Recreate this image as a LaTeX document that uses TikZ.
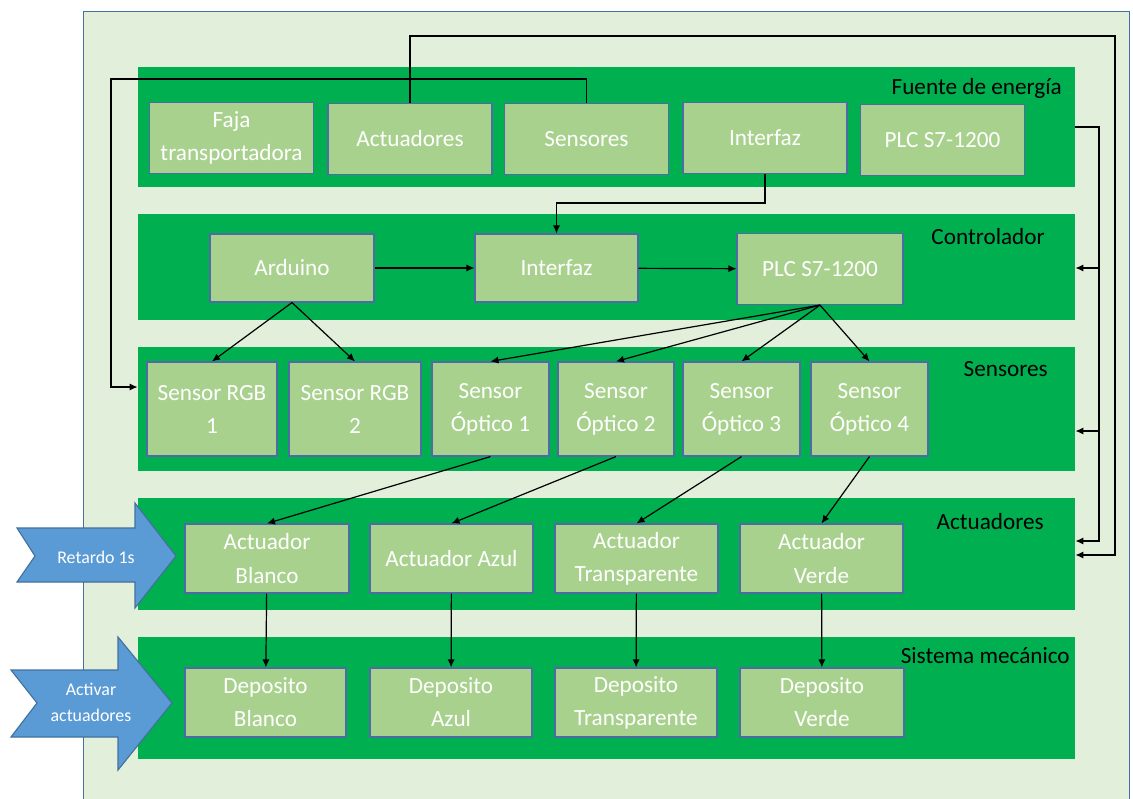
\documentclass[tikz,border=0pt]{standalone}
\usepackage{fontspec}
\setmainfont{Carlito}
\usetikzlibrary{arrows.meta, positioning}
\usepackage{xcolor}
\definecolor{fondo}{HTML}{E2EFDA}
\definecolor{banda}{HTML}{00B050}
\definecolor{caja}{HTML}{A9D18E}
\definecolor{borde}{HTML}{4E6BA6}
\definecolor{azulflecha}{HTML}{5B9BD5}
\definecolor{bordeflecha}{HTML}{41719C}

\begin{document}
\begin{tikzpicture}[x=0.025cm,y=-0.025cm]
\tikzstyle{bloque} = [
	shape=rectangle,
	draw=borde, %blue border of the boxes
	fill=caja, %light green inside
	line width=0.8pt,
	text=white,
	align=center,
	font=\fontsize{16.5}{23.5}\selectfont,
	minimum width=4.1cm,
	minimum height=1.775cm,
	inner sep=0pt
];
\tikzstyle{franja} = [
	shape=rectangle,
	fill=banda,
	minimum width=23.425cm,
	inner sep=0pt
];
\tikzstyle{titulo} = [
	anchor=east,
	text=black,
	font=\fontsize{16.5}{23.5}\selectfont,
	inner sep=0pt
];
\tikzstyle{entrada} = [
	fill=azulflecha,
	draw=bordeflecha,
	line width=0.8pt
];
\tikzstyle{flecha} = [-{Latex[length=2mm,width=1.8mm]}];

\useasboundingbox (0,0) rectangle (1133,798);
\fill[fondo] (83,11) rectangle (1129,810);
\draw[bordeflecha, line width=0.6pt] (83,810) -- (83,11) -- (1129,11) -- (1129,810);

%bands
\node[franja, minimum height=3cm](Fe) at (606.5,127) {};
\node[franja, minimum height=2.65cm](Co) at (606.5,267) {};
\node[franja, minimum height=3.1cm](Se) at (606.5,409) {};
\node[franja, minimum height=2.8cm](Ac) at (606.5,554) {};
\node[franja, minimum height=3.05cm](Sm) at (606.5,698) {};

\node[titulo](tFe) at (1062,88) {Fuente de energía};
\node[titulo](tCo) at (1045,237) {Controlador};
\node[titulo](tSe) at (1048,369) {Sensores};
\node[titulo](tAc) at (1044,522) {Actuadores};
\node[titulo](tSm) at (1070,656) {Sistema mecánico};

\begin{scope}[shift={(0,139)}]
	\node[bloque](Fa) at (231.5,-1) {Faja\\transportadora};
	\node[bloque](At) at (410,0) {Actuadores};
	\node[bloque](Sn) at (586.5,0) {Sensores};
	\node[bloque](If) at (765,-1) {Interfaz};
	\node[bloque](Pl) at (942.5,1) {PLC S7-1200};
\end{scope}

\begin{scope}[shift={(0,268)}]
	\node[bloque, minimum height=1.7cm](Ar) at (292,0) {Arduino};
	\node[bloque, minimum width=4.075cm, minimum height=1.7cm](In) at (556.5,0) {Interfaz};
	\node[bloque, minimum width=4.15cm](Pc) at (820,1) {PLC S7-1200};
\end{scope}

\begin{scope}[shift={(0,409)}]
	\node[bloque, minimum width=3.25cm, minimum height=2.35cm](R1) at (212,0) {Sensor RGB\\1};
	\node[bloque, minimum width=3.3cm, minimum height=2.35cm](R2) at (355,0) {Sensor RGB\\2};
	\node[bloque, minimum width=2.925cm, minimum height=2.35cm](O1) at (490.5,0) {Sensor\\Óptico 1};
	\node[bloque, minimum width=2.9cm, minimum height=2.35cm](O2) at (616,0) {Sensor\\Óptico 2};
	\node[bloque, minimum width=2.925cm, minimum height=2.35cm](O3) at (741.5,0) {Sensor\\Óptico 3};
	\node[bloque, minimum width=2.925cm, minimum height=2.35cm](O4) at (869.5,0) {Sensor\\Óptico 4};
\end{scope}

\begin{scope}[shift={(0,558.5)}]
	\node[bloque, minimum height=1.725cm](AB) at (267,0) {Actuador\\Blanco};
	\node[bloque, minimum width=4.075cm, minimum height=1.725cm](AA) at (451.5,0) {Actuador Azul};
	\node[bloque, minimum width=4.075cm, minimum height=1.725cm](AT) at (636.5,0) {Actuador\\Transparente};
	\node[bloque, minimum width=4.075cm, minimum height=1.725cm](AV) at (821.5,0) {Actuador\\Verde};
\end{scope}

\begin{scope}[shift={(0,702.5)}]
	\node[bloque, minimum width=4.025cm, minimum height=1.725cm](DB) at (265.5,0) {Deposito\\Blanco};
	\node[bloque, minimum width=4.05cm, minimum height=1.725cm](DA) at (451,0) {Deposito\\Azul};
	\node[bloque, minimum width=4.05cm, minimum height=1.725cm](DT) at (636,0) {Deposito\\Transparente};
	\node[bloque, minimum height=1.725cm](DV) at (822,0) {Deposito\\Verde};
\end{scope}

%inputs on the left
\draw[entrada] (17,528) -- (135,528) -- (135,503) -- (176,556) -- (135,608) -- (135,582) -- (17,582) -- (35,556) -- cycle;
\node[text=white, font=\fontsize{12.7}{18.4}\selectfont, align=center](Rt) at (96,557) {Retardo 1s};
\draw[entrada] (11,670) -- (118,670) -- (118,637) -- (172,703) -- (118,770) -- (118,737) -- (11,737) -- (37,703) -- cycle;
\node[text=white, font=\fontsize{12.7}{18.4}\selectfont, align=center](Aa) at (91,702) {Activar\\actuadores};

%routing points
\coordinate (s1) at (586.5,79);
\coordinate (s2) at (111,387);
\coordinate (a1) at (410,36);
\coordinate (a2) at (1115,555);
\coordinate (p2) at (1099,541);
\coordinate (p3) at (1099,268);
\coordinate (p4) at (1099,431);
\coordinate (i1) at (765,203);

%long connectors
\draw[flecha, line width=0.3mm, color=black]
	(Sn.north) -- (s1) -| (s2) -- (Se.west |- s2);
\draw[flecha, line width=0.3mm, color=black]
	(At.north) -- (a1) -| (a2) -- (Ac.east |- a2);
\draw[flecha, line width=0.3mm, color=black]
	(Fe.east) -| (p2) -- (Ac.east |- p2);
\draw[flecha, line width=0.3mm, color=black]
	(If.south) -- (i1) -| (In.north);
\draw[line width=0.3mm, color=black]
	(p3) edge[flecha] (Co.east |- p3)
	(p4) edge[flecha] (Se.east |- p4)
;

%controller and sensors
\draw[line width=0.3mm, color=black]
	(Ar) edge[flecha] (In)
	(In) edge[flecha] (Pc)
	(Ar.south) edge[flecha] (R1.north)
	(Ar.south) edge[flecha] (R2.north)
	(Pc.south) edge[flecha] (O1.north)
	(Pc.south) edge[flecha] (O2.north)
	(Pc.south) edge[flecha] (O3.north)
	(Pc.south) edge[flecha] (O4.north)
;

%sensors to actuators to deposits
\draw[line width=0.3mm, color=black]
	(O1.south) edge[flecha] (AB.north)
	(O2.south) edge[flecha] (AA.north)
	(O3.south) edge[flecha] (AT.north)
	(O4.south) edge[flecha] (AV.north)
	(AB) edge[flecha] (DB)
	(AA) edge[flecha] (DA)
	(AT) edge[flecha] (DT)
	(AV) edge[flecha] (DV)
;

\end{tikzpicture}
\end{document}
